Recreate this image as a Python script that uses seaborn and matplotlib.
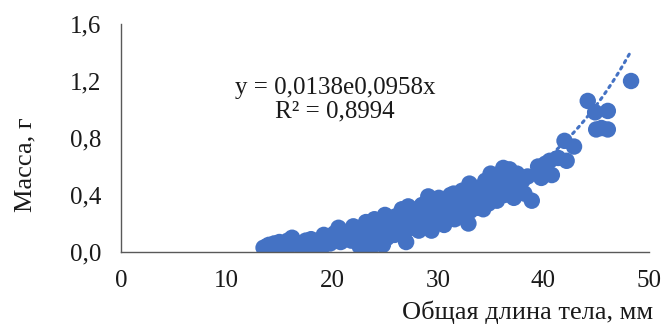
import matplotlib
matplotlib.use("Agg")
import matplotlib.pyplot as plt
import seaborn as sns
import numpy as np
import pandas as pd

# body length (mm) and mass (g)
length_mm = [
    13.5, 13.8, 14.0, 14.2, 14.5, 14.8, 15.0, 15.3, 15.5, 15.8, 16.0, 16.2, 16.5, 16.8,
    17.0, 17.2, 17.5, 17.8, 18.0, 18.3, 18.6,
    19.0, 19.2, 19.4, 19.6, 19.8, 20.0, 20.2, 20.4, 20.6, 20.8, 21.0, 21.2, 21.4, 21.6,
    21.8, 22.0, 22.2, 22.4, 22.6, 22.8,
    23.0, 23.2, 23.3, 23.5, 23.6, 23.8, 24.0, 24.1, 24.3, 24.5, 24.7, 24.8, 25.0, 25.1,
    25.2, 25.4, 25.5, 25.7, 25.9, 26.0, 26.2, 26.4, 26.6, 26.7,
    27.0, 27.1, 27.2, 27.4, 27.5, 27.7, 27.9, 28.0, 28.2, 28.3, 28.5, 28.7, 28.9, 29.1,
    29.2, 29.4, 29.5, 29.6, 29.8, 30.0, 30.1, 30.2, 30.4, 30.6, 30.8,
    31.0, 31.2, 31.3, 31.5, 31.6, 31.8, 32.0, 32.2, 32.3, 32.5, 32.7, 32.9, 33.0, 33.1,
    33.3, 33.5, 33.6, 33.8, 34.0, 34.2, 34.3, 34.5, 34.7, 34.8,
    35.0, 35.1, 35.3, 35.5, 35.6, 35.8, 36.0, 36.2, 36.3, 36.5, 36.7, 36.8, 37.0, 37.2,
    37.4, 37.5, 37.7, 38.0, 38.2, 38.5, 38.9,
    39.5, 39.8, 40.2, 40.6, 40.8, 41.4, 42.0, 42.2, 42.9, 44.2, 44.9, 45.0, 46.1, 46.1,
    45.5, 48.3,
]
mass_g = [
    0.03, 0.04, 0.05, 0.03, 0.06, 0.05, 0.07, 0.04, 0.06, 0.08, 0.05, 0.10, 0.07, 0.06,
    0.04, 0.02, 0.08, 0.06, 0.09, 0.05, 0.07,
    0.03, 0.12, 0.08, 0.10, 0.06, 0.09, 0.13, 0.11, 0.17, 0.07, 0.12, 0.09, 0.14, 0.11,
    0.08, 0.18, 0.13, 0.10, 0.04, 0.15,
    0.12, 0.21, 0.17, 0.08, 0.02, 0.14, 0.23, 0.18, 0.12, 0.16, 0.20, 0.05, 0.26, 0.14,
    0.10, 0.19, 0.22, 0.16, 0.12, 0.25, 0.18, 0.21, 0.30, 0.14,
    0.07, 0.20, 0.32, 0.24, 0.17, 0.27, 0.21, 0.30, 0.15, 0.25, 0.33, 0.22, 0.28, 0.39,
    0.18, 0.15, 0.31, 0.25, 0.35, 0.22, 0.38, 0.28, 0.32, 0.19, 0.26,
    0.34, 0.40, 0.29, 0.41, 0.23, 0.36, 0.31, 0.27, 0.43, 0.38, 0.33, 0.20, 0.48, 0.29,
    0.40, 0.35, 0.45, 0.31, 0.42, 0.37, 0.30, 0.50, 0.44, 0.34,
    0.55, 0.39, 0.47, 0.42, 0.36, 0.51, 0.45, 0.59, 0.40, 0.48, 0.43, 0.58, 0.52, 0.38,
    0.47, 0.55, 0.44, 0.50, 0.41, 0.53, 0.36,
    0.60, 0.52, 0.62, 0.64, 0.54, 0.66, 0.78, 0.64, 0.74, 1.06, 0.98, 0.86, 0.99, 0.86,
    0.87, 1.20,
]

# exponential trendline shown on the chart
fit_a = 0.0138
fit_b = 0.0958
fit_label = "y = 0,0138e0,0958x\nR² = 0,8994"

x_ticks = [0, 10, 20, 30, 40, 50]
y_ticks = [0.0, 0.4, 0.8, 1.2, 1.6]

blue = "#4472C4"
axis_grey = "#595959"
text_col = "#1a1a1a"

sns.set_theme(style="white")
plt.rcParams['font.family'] = ['Liberation Serif', 'DejaVu Serif']

df = pd.DataFrame({'length': length_mm, 'mass': mass_g})

W, H = 665, 324
fig = plt.figure(figsize=(W / 100, H / 100), dpi=100)
# axes box in pixels: x 121..649, y 24..252 (from top)
ax = fig.add_axes([121 / W, 1 - 252 / H, 528 / W, 228 / H])

sns.scatterplot(data=df, x='length', y='mass', ax=ax, color=blue, s=140,
                edgecolor='none', linewidth=0, alpha=1, legend=False, zorder=2)

xs = np.linspace(df.length.min(), df.length.max(), 200)
ax.plot(xs, fit_a * np.exp(fit_b * xs), color=blue, lw=2.2,
        linestyle=(0, (0.8, 1.6)), dash_capstyle='round', zorder=3)

# equation, centred at about pixel (335, 100)
ax.text((335 - 121) / 528, (252 - 100) / 228, fit_label, transform=ax.transAxes,
        ha='center', va='center', multialignment='center', fontsize=18,
        color=text_col, linespacing=1.1)

ax.set_xlim(0, 50)
ax.set_ylim(0, 1.6)
ax.set_xticks(x_ticks)
ax.set_yticks(y_ticks)
ax.set_xticklabels([str(t) for t in x_ticks])
ax.set_yticklabels([f"{t:.1f}".replace('.', ',') for t in y_ticks])

for side in ['top', 'right']:
    ax.spines[side].set_visible(False)
for side in ['left', 'bottom']:
    ax.spines[side].set_color(axis_grey)
    ax.spines[side].set_linewidth(1.0)

ax.tick_params(axis='both', direction='in', length=5, width=1, color=axis_grey,
               labelsize=18, labelcolor=text_col)
ax.tick_params(axis='x', pad=13)
ax.tick_params(axis='y', pad=14)

ax.set_xlabel("")
ax.set_ylabel("")
fig.text(653 / W, 1 - 312 / H, "Общая длина тела, мм", ha='right', va='center',
         fontsize=19, color=text_col)
fig.text(25 / W, 1 - 165 / H, "Масса, г", ha='center', va='center',
         rotation=90, fontsize=19, color=text_col)

fig.savefig("out.png", dpi=100)
